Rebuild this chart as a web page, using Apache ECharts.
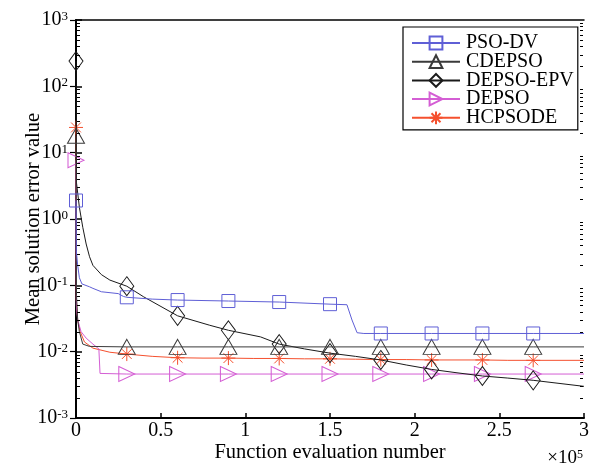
<!DOCTYPE html>
<html><head><meta charset="utf-8">
<script src="https://cdn.jsdelivr.net/npm/echarts@6/dist/echarts.min.js"></script>
<style>html,body{margin:0;padding:0;background:#fff}#c{width:593px;height:465px}</style>
</head><body><div id="c"></div>
<script>
const seriesNames = ['PSO-DV', 'CDEPSO', 'DEPSO-EPV', 'DEPSO', 'HCPSODE'];
const xTickLabels = ['0', '0.5', '1', '1.5', '2', '2.5', '3'];
const markerX = [0, 0.3, 0.6, 0.9, 1.2, 1.5, 1.8, 2.1, 2.4, 2.7];

const psoDvMarkers = [1.9, 0.066, 0.06, 0.058, 0.056, 0.052, 0.0188, 0.0188, 0.0188, 0.0188];
const psoDvLine = [[0.002,0.33],[0.01,0.2],[0.02,0.13],[0.035,0.105],[0.08,0.095],[0.1,0.09],[0.15,0.08],[0.25,0.075],[0.28,0.068],[0.45,0.062],[1.6,0.051],[1.63,0.03],[1.66,0.0193],[1.7,0.0188],[3,0.0188]];

const cdepsoMarkers = [18, 0.0118, 0.0118, 0.0118, 0.0118, 0.0118, 0.0118, 0.0118, 0.0118, 0.0118];
const cdepsoLine = [[0.003,0.07],[0.01,0.03],[0.02,0.02],[0.04,0.013],[0.08,0.012],[3,0.0118]];

const depsoEpvMarkers = [240, 0.097, 0.0347, 0.021, 0.013, 0.0095, 0.0075, 0.0054, 0.0043, 0.0037];
const depsoEpvLine = [[0.003,3.5],[0.02,1.5],[0.04,0.75],[0.06,0.42],[0.08,0.27],[0.1,0.2],[0.15,0.145],[0.2,0.12],[0.4,0.067],[0.79,0.025],[1.09,0.0167],[1.35,0.011],[1.65,0.0085],[1.95,0.0063],[2.25,0.0048],[2.55,0.004],[3,0.003]];

const depsoMarkers = [7.7, 0.0046, 0.0046, 0.0046, 0.0046, 0.0046, 0.0046, 0.0046, 0.0046, 0.0046];
const depsoLine = [[0.002,0.05],[0.01,0.03],[0.03,0.02],[0.06,0.016],[0.1,0.013],[0.135,0.011],[0.142,0.0047],[3,0.0046]];

const hcpsodeMarkers = [24, 0.0092, 0.0081, 0.008, 0.0079, 0.0078, 0.0076, 0.0075, 0.0075, 0.0074];
const hcpsodeLine = [[0.002,0.06],[0.01,0.03],[0.025,0.02],[0.05,0.014],[0.1,0.0113],[0.2,0.0098],[0.45,0.0085],[0.75,0.008],[1.05,0.0079],[1.35,0.0078],[1.65,0.0077],[1.95,0.0076],[2.25,0.0075],[2.55,0.0074],[3,0.0074]];

// minor tick positions on the log axis (mantissas within each decade)
const minorMantissas = [2, 3, 4, 5, 6, 7, 8, 9];
const decadeStarts = [0.001, 0.01, 0.1, 1, 10, 100];

const FONT = 'Liberation Serif';

function merge(line, markers) {
  const pts = line.map(p => ({ value: [p[0], p[1]], symbol: 'none' }));
  markers.forEach((v, i) => pts.push({ value: [markerX[i], v] }));
  pts.sort((a, b) => a.value[0] - b.value[0]);
  return pts;
}

const styles = [
  { color: '#5f5fd6', symbol: 'rect', size: [13, 13] },
  { color: '#3a3a3a', symbol: 'triangle', size: [17, 15] },
  { color: '#1a1a1a', symbol: 'diamond', size: [14, 19] },
  { color: '#d45ed4', symbol: 'path://M0,0L10,5L0,10Z', size: [16, 15] },
  { color: '#f5502e', symbol: 'path://M0,5L10,5M5,0L5,10M1.5,1.5L8.5,8.5M8.5,1.5L1.5,8.5M4.6,5L5.4,5', size: [14, 14] }
];
const lines = [psoDvLine, cdepsoLine, depsoEpvLine, depsoLine, hcpsodeLine];
const marks = [psoDvMarkers, cdepsoMarkers, depsoEpvMarkers, depsoMarkers, hcpsodeMarkers];

const series = seriesNames.map((name, k) => ({
  name, type: 'line', data: merge(lines[k], marks[k]),
  symbol: styles[k].symbol, symbolSize: styles[k].size, showAllSymbol: true,
  lineStyle: { color: styles[k].color, width: 1 },
  itemStyle: { color: 'rgba(255,255,255,0)', borderColor: styles[k].color, borderWidth: 1 },
  emphasis: { disabled: true }, animation: false, z: 5 - k
}));

const minorData = [];
decadeStarts.forEach(d => minorMantissas.forEach(m => minorData.push([0, d * m])));
series.push({
  type: 'custom', name: 'minorTicks', silent: true, clip: false, z: 10,
  data: minorData,
  renderItem: (params, api) => {
    const v = api.value(1);
    const l = api.coord([0, v]);
    const r = api.coord([3, v]);
    return { type: 'group', children: [
      { type: 'line', shape: { x1: l[0] + 1, y1: Math.round(l[1]) + 0.5, x2: l[0] + 4, y2: Math.round(l[1]) + 0.5 }, style: { stroke: '#000', lineWidth: 1 } },
      { type: 'line', shape: { x1: r[0] - 1, y1: Math.round(r[1]) + 0.5, x2: r[0] - 4, y2: Math.round(r[1]) + 0.5 }, style: { stroke: '#000', lineWidth: 1 } }
    ] };
  }
});

const supLabel = v => {
  const e = Math.round(Math.log10(v));
  return '{b|10}{s|' + e + '}';
};
const richY = {
  b: { fontFamily: FONT, fontSize: 20, color: '#000', lineHeight: 20 },
  s: { fontFamily: FONT, fontSize: 13, color: '#000', lineHeight: 13, verticalAlign: 'top' }
};

const chart = echarts.init(document.getElementById('c'), null, { renderer: 'canvas' });
chart.setOption({
  animation: false,
  backgroundColor: '#fff',
  grid: { left: 76, top: 20, right: 9, bottom: 47, outerBoundsMode: 'none', containLabel: false },
  legend: {
    orient: 'vertical', left: 403, top: 27,
    itemWidth: 48, itemHeight: 16, itemGap: -1.3,
    padding: [6, 4, 2, 8],
    backgroundColor: '#fff', borderColor: '#000', borderWidth: 1.2,
    textStyle: { fontFamily: FONT, fontSize: 20, color: '#000', padding: [0, 0, 0, 1] },
    data: seriesNames
  },
  xAxis: [{
    type: 'value', min: 0, max: 3, interval: 0.5,
    name: 'Function evaluation number', nameLocation: 'middle', nameGap: 24, nameMoveOverlap: false,
    nameTextStyle: { fontFamily: FONT, fontSize: 20.5, color: '#000' },
    axisLine: { lineStyle: { color: '#000', width: 2 } },
    axisTick: { inside: true, length: 5, lineStyle: { color: '#000', width: 1.5 } },
    axisLabel: { fontFamily: FONT, fontSize: 20, color: '#000', margin: 3,
      formatter: v => xTickLabels[Math.round(v / 0.5)] },
    splitLine: { show: false }
  }, {
    type: 'value', position: 'top', min: 0, max: 3,
    axisLine: { show: true, lineStyle: { color: '#000', width: 1.5 } },
    axisTick: { show: false }, axisLabel: { show: false }, splitLine: { show: false }
  }],
  yAxis: [{
    type: 'log', logBase: 10, min: 0.001, max: 1000, splitNumber: 6,
    name: 'Mean solution error value', nameLocation: 'middle', nameGap: 32, nameMoveOverlap: false,
    nameTextStyle: { fontFamily: FONT, fontSize: 20.5, color: '#000' },
    axisLine: { show: true, lineStyle: { color: '#000', width: 2 } },
    axisTick: { inside: true, length: 6, lineStyle: { color: '#000', width: 1.5 } },
    axisLabel: { margin: 8, formatter: supLabel, rich: richY },
    splitLine: { show: false }
  }, {
    type: 'log', logBase: 10, min: 0.001, max: 1000, splitNumber: 6, position: 'right',
    axisLine: { show: true, lineStyle: { color: '#000', width: 1.5 } },
    axisTick: { inside: true, length: 6, lineStyle: { color: '#000', width: 1.2 } },
    axisLabel: { show: false }, splitLine: { show: false }
  }],
  graphic: [{
    type: 'text', right: 10, bottom: -3,
    style: { text: '×10{s|5}', fontFamily: FONT, fontSize: 19, fill: '#000',
      rich: { s: { fontFamily: FONT, fontSize: 12, verticalAlign: 'top', lineHeight: 12 } } }
  }],
  series
});
</script></body></html>
